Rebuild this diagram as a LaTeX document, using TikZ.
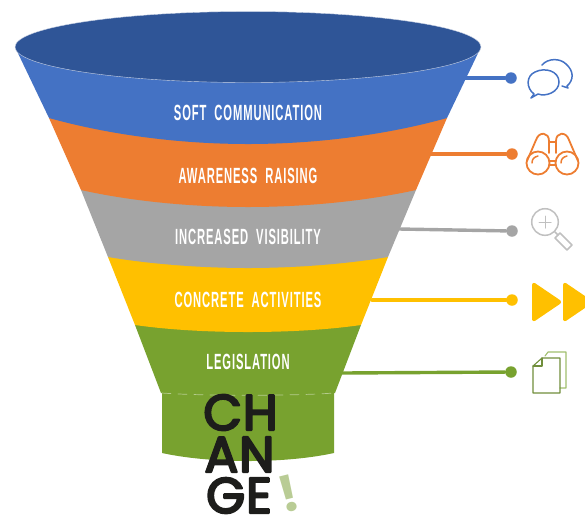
\documentclass[tikz,border=0pt]{standalone}
\usepackage{fontspec}
\usepackage{tikz}
\newfontfamily\bandfont[FakeStretch=0.51,LetterSpace=4]{Liberation Sans}
\newfontfamily\logofont[FakeBold=4.5,LetterSpace=2]{Poppins}
\newfontfamily\bangfont{Poppins}
\definecolor{rimblue}{HTML}{2F5597}
\definecolor{softblue}{HTML}{4472C4}
\definecolor{awareorange}{HTML}{ED7D31}
\definecolor{visgrey}{HTML}{A5A5A5}
\definecolor{actyellow}{HTML}{FFC000}
\definecolor{lawgreen}{HTML}{78A22F}
\definecolor{logoblack}{HTML}{1D1D1B}
\definecolor{banggreen}{HTML}{B9CC95}
\tikzset{
  bandlabel/.style={text=white,font=\bandfont\bfseries\fontsize{22}{22}\selectfont,inner sep=0pt},
  logorow/.style={text=logoblack,font=\logofont\fontsize{50}{50}\selectfont,inner sep=0pt,text height=35pt,text depth=0pt},
  enddot/.style={circle,fill=#1,inner sep=0pt,minimum size=11.5pt},
  leader/.style={line width=3.4pt,draw=#1},
  icon/.style={line width=1.5pt,draw=#1,line join=round,fill=none}
}
\begin{document}
\begin{tikzpicture}[line cap=round,line join=round,x=1pt,y=-1pt]
\useasboundingbox (0,0) rectangle (585,515);
\clip (0,0) rectangle (585,515);
% funnel
\fill [lawgreen] (162,392) -- (162,453) .. controls (185,458) and (215,461) .. (248,461) .. controls (281,461) and (311,458) .. (334,453) -- (334,392) -- cycle;
\fill [lawgreen] (135,325) -- (161,393) -- (335,393) -- (361,325) -- cycle;
\draw [white,opacity=0.45,line width=0.7pt,dash pattern=on 9pt off 7pt] (162,393) .. controls (200,396) and (296,396) .. (334,393);
\fill [actyellow] (108,257) -- (135,325) .. controls (170,330) and (210,332) .. (248,332) .. controls (286,332) and (326,330) .. (361,325) -- (388,257) -- cycle;
\fill [visgrey] (81,190) -- (108,257) .. controls (150,264) and (200,268) .. (248,268) .. controls (296,268) and (346,264) .. (388,257) -- (416,190) -- cycle;
\fill [awareorange] (49,118) -- (81,190) .. controls (130,201) and (190,207) .. (248,207) .. controls (306,207) and (366,201) .. (416,190) -- (447,118) -- cycle;
\fill [softblue] (15,47) -- (49,118) .. controls (110,135) and (180,144) .. (248,144) .. controls (316,144) and (386,135) .. (447,118) -- (481,47) -- cycle;
\filldraw [fill=rimblue,draw=white!75!rimblue,line width=0.4pt] (248,47) ellipse (233 and 35.5);
% band labels
\node [bandlabel] (soft) at (248,113) {SOFT\ \ COMMUNICATION};
\node [bandlabel] (aware) at (248,176) {AWARENESS\ \ RAISING};
\node [bandlabel] (visible) at (248,237) {INCREASED\ \ VISIBILITY};
\node [bandlabel] (concrete) at (248,300) {CONCRETE\ \ ACTIVITIES};
\node [bandlabel] (law) at (248,362) {LEGISLATION};
% leaders
\coordinate (softedge) at (465,78);
\coordinate (awareedge) at (431,154);
\coordinate (visibleedge) at (399,229);
\coordinate (concreteedge) at (372,300);
\coordinate (lawedge) at (342,373);
\node [enddot=softblue] (softdot) at (511,78) {};
\node [enddot=awareorange] (awaredot) at (512,154) {};
\node [enddot=visgrey] (visibledot) at (512,231) {};
\node [enddot=actyellow] (concretedot) at (512,300) {};
\node [enddot=lawgreen] (lawdot) at (511,372) {};
\draw [leader=softblue] (softedge) -- (softdot);
\draw [leader=awareorange] (awareedge) -- (awaredot);
\draw [leader=visgrey] (visibleedge) -- (visibledot);
\draw [leader=actyellow] (concreteedge) -- (concretedot);
\draw [leader=lawgreen] (lawedge) -- (lawdot);
% speech bubbles
\draw [icon=softblue] (534,94) .. controls (526,88) and (526,76) .. (535,72) .. controls (545,67) and (559,71) .. (559,82) .. controls (559,92) and (546,97) .. (538,94) -- (531,98) -- cycle;
\draw [icon=softblue] (542,65) .. controls (548,58) and (560,58) .. (566,64) .. controls (574,71) and (574,80) .. (567,86) -- (568,88) -- (562,86);
% binoculars
\draw [icon=awareorange,line width=1.8pt] (538,163) circle (11.5);
\draw [icon=awareorange,line width=1.8pt] (567,163) circle (11.5);
\draw [icon=awareorange,line width=1.8pt] (527,161) -- (536,140) .. controls (539,131) and (549,132) .. (549,141) -- (549,153);
\draw [icon=awareorange,line width=1.8pt] (578,161) -- (569,140) .. controls (566,131) and (556,132) .. (556,141) -- (556,153);
\draw [icon=awareorange,line width=1.8pt] (549,142) -- (556,142);
\draw [icon=awareorange,line width=1.8pt] (549.5,161) -- (555.5,161);
\draw [icon=awareorange,line width=1.8pt] (549.5,165) -- (555.5,165);
\draw [icon=awareorange] (532,163) .. controls (532,159) and (534,157) .. (538,156);
\draw [icon=awareorange] (561,163) .. controls (561,159) and (563,157) .. (567,156);
% magnifier
\draw [icon=visgrey!70] (545,222) circle (13.3);
\draw [icon=visgrey!70,line width=1pt] (539,222) -- (551,222);
\draw [icon=visgrey!70,line width=1pt] (545,216) -- (545,228);
\draw [icon=visgrey!70] (555,232) -- (558,235);
\draw [icon=visgrey!70] (555,238) -- (560,233) -- (572,245) -- (567,250) -- cycle;
% fast forward
\filldraw [fill=actyellow,draw=actyellow,line width=2pt,rounded corners=2pt] (533,283) -- (561,302) -- (533,321) -- cycle;
\filldraw [fill=actyellow,draw=actyellow,line width=2pt,rounded corners=2pt] (564,283) -- (592,302) -- (564,321) -- cycle;
% documents
\draw [icon=lawgreen!70,line width=1.1pt] (545,356) -- (548,352) -- (566,352) -- (566,388) -- (560,388);
\draw [icon=lawgreen!80!black!90,line width=1.1pt] (533,366) -- (542,358) -- (560,358) -- (560,393) -- (533,393) -- cycle;
\draw [icon=lawgreen!80!black!90,line width=1.1pt] (542,358) -- (542,366) -- (533,366);
% logo
\node [logorow] (logoch) at (240.5,412.5) {CH};
\node [logorow] (logoan) at (239.5,454.5) {AN};
\node [logorow] (logoge) at (239,495.5) {GE};
\node [text=banggreen,font=\bangfont\bfseries\fontsize{50}{50}\selectfont,inner sep=0pt,text height=36pt,text depth=0pt,rotate=14] (logobang) at (289,494) {!};
\end{tikzpicture}
\end{document}
